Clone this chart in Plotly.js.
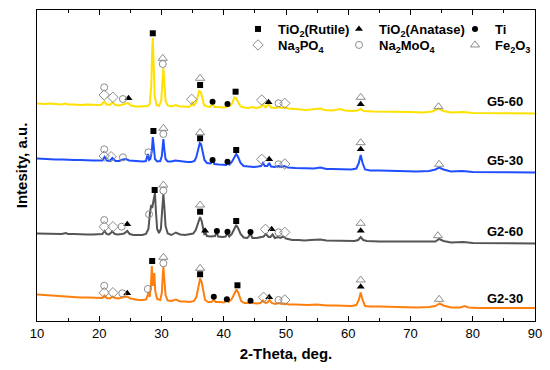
<!DOCTYPE html>
<html><head><meta charset="utf-8">
<script src="https://cdn.plot.ly/plotly-3.0.1.min.js"></script>
<style>html,body{margin:0;padding:0;background:#fff}#chart{width:550px;height:370px}</style>
</head><body><div id="chart"></div>
<script>
// ---- series: 2-theta (deg) and stacked intensity (a.u., offset as in figure) ----
const g560X = [10,11,12,13,14,14.5,15,16,17,18,19,20,20.4,20.8,21.2,21.7,22.1,22.6,23.2,23.7,24.2,24.6,25.1,25.8,26.5,27.2,27.8,28.1,28.35,28.5,28.6,28.75,28.9,29.2,29.6,29.95,30.15,30.3,30.45,30.65,31.0,31.6,32.3,32.9,33.6,34.4,34.8,34.95,35.15,35.5,35.8,36.05,36.3,36.55,36.85,37.3,37.8,38.2,38.5,39.2,39.9,40.4,40.6,40.9,41.3,41.7,41.95,42.3,42.7,43.3,44.0,44.6,45.2,45.9,46.3,46.7,47.2,47.6,48.3,48.8,49.3,49.7,50.3,51.5,52,53,54,55.5,56.2,57.5,58.7,59.5,60.5,61.5,62,62.5,64,66,68,70,72,73.5,74.5,75.3,76.5,78.5,80,82,84,86,88,90];
const g560Y = [217.5,217,217.5,217,216.5,217.5,216.5,216.5,216,216.5,216,216,216.5,219.5,216.5,216,218.5,216,215.5,216.5,217.5,218,215.5,214.5,214.5,214.5,215,217,235,270,283,255,225,216,215,220,240,253,238,220,215.5,214.5,216,214.5,214.5,214,216,219.5,215,218,224,230,229,222,216,214.5,214,217,214,214,213.5,214,216,214.5,217,223.5,223,219,214.5,213.5,213,214,213,214,216.5,213.5,217,213.5,213,214,213,214,212.5,212,211.5,211,211.5,212.5,211,210.5,212,210.5,210,210.5,212,210,209.5,209.5,209,209,208.5,209.5,212.5,210,208.5,209,208,208,208,207.5,207.5,207.5];

const g530X = [10,11,12,13,14,15,16,17,18,19,20,20.5,20.85,21.2,21.7,22.1,22.6,23.2,23.8,24.3,24.8,25.5,26.3,27.0,27.5,27.8,28.0,28.2,28.45,28.6,28.75,28.95,29.3,29.8,30.05,30.2,30.3,30.45,30.65,31.0,31.6,32.2,32.8,33.5,34.2,34.8,35.3,35.6,35.9,36.15,36.35,36.6,36.9,37.3,37.9,38.25,38.5,39.2,39.9,40.4,40.6,40.9,41.3,41.7,42.0,42.3,42.7,43.2,44.0,44.8,45.5,46.0,46.3,46.6,47.0,47.3,47.6,48.2,48.8,49.3,49.7,50.3,51.5,52.5,53.5,54.5,55.5,56.5,57.5,58.5,59.5,60.5,61.3,61.7,62.0,62.3,62.7,63.5,65,67,69,71,73,74,74.6,75.3,76.5,78.3,80,82,84,86,88,90];
const g530Y = [162.5,162,162,161.5,161.5,161,161,161,160.5,160.5,160.5,160.5,164,160.5,160,163,160,160,161.5,162,160.5,160,160,159.5,160,167,161,162,170,184,175,162,159.5,160,165,175,182,172,162,159.5,159.5,160.5,160,159,159,159,160,164,172,178,177,170,161,158,157.5,160.5,157,156.5,156,156,158.5,156.5,159,164,167,164,158,155,154.5,154,154.5,155,158,155,155,158,154.5,154,155,154,155,153.5,153,153,152.5,152.5,153.5,152,152,152,151.5,151.5,152.5,158,166,158,151.5,150.5,150.5,150,150,149.5,150,151.5,153.5,151.5,149.5,150,149,149,149,148.5,148.5,148.5];

const g260X = [10,11,12,13,14,14.6,15,16,17,18,19,20,20.5,20.85,21.2,21.6,22.1,22.5,23.0,23.6,24.0,24.5,24.9,25.5,26.2,26.9,27.5,27.9,28.15,28.35,28.5,28.65,28.8,28.95,29.1,29.3,29.6,29.9,30.1,30.3,30.45,30.65,31.0,31.6,32.3,33.0,33.8,34.5,35.1,35.5,35.9,36.2,36.45,36.7,36.9,37.05,37.3,37.9,38.6,38.85,39.1,39.8,40.3,40.6,40.9,41.3,41.7,42.0,42.3,42.7,43.2,43.8,44.3,44.6,45.3,45.9,46.4,46.8,47.2,47.5,47.85,48.2,48.7,49.1,49.55,50.0,51,52,53,54,55.5,56.5,58,59.5,61,61.6,62.0,62.4,63,65,67,69,71,73,74,74.6,75.3,76.5,78.5,80,82,84,86,88,90];
const g260Y = [87.5,87.5,87,87.5,87,88,87,87,86.5,86.5,86.5,86.5,87,90,87,86.5,89.5,87,86.5,87,87.5,90,87,86,86,86,87,92,108,116,113,118,126,128,110,92,88,92,110,127,115,95,87.5,86,88.5,86.5,86,86.5,87.5,91,99,104,100,92,86,89,85,84.5,85,89,84.5,84,84.5,88,84.5,87,93,96,93,87,83.5,83,87,83,83,83.5,84.5,87,84,84,86.5,83,84,83,84.5,82.5,81,81,80.5,81,81.5,80.5,80.5,80.5,80,81,84,81,80,79.5,79.5,79,79,79,79.5,82,80,78.5,79,78,78,77.5,78,77.5,77.5];

const g230X = [10,11,12,13,14,15,16,17,18,19,20,20.5,20.85,21.2,21.7,22.1,22.5,23.1,23.6,24.0,24.5,25.0,25.6,26.3,27.0,27.5,27.75,27.9,28.1,28.3,28.45,28.6,28.7,28.85,29.0,29.3,29.8,30.05,30.2,30.3,30.45,30.65,31.0,31.6,32.3,33.0,33.8,34.6,35.2,35.6,35.9,36.2,36.45,36.7,37.0,37.5,38.0,38.4,38.7,39.4,40.0,40.5,40.8,41.3,41.7,42.05,42.35,42.8,43.3,44.0,44.3,44.7,45.3,45.9,46.3,46.7,47.0,47.35,47.7,48.3,48.8,49.3,49.8,50.5,51.5,52.5,53.5,55,56.5,58,59.5,60.5,61.3,61.7,62.0,62.3,62.7,63.5,65,67,69,71,73,74.0,74.7,75.3,76.5,78.0,78.7,79.3,81,83,85,87,88.5,90];
const g230Y = [26.5,26,25.5,25,24.5,24.5,24,23.5,23.5,23,23,23,25.5,23,22.5,24.5,23,22.5,23.5,24,24.5,22.5,21.5,21,21,21.5,25,29,24,35,55,35,40,48,30,22,21,28,45,54,42,26,20.5,20,21.5,19.5,19.5,19,20,24,33,42.5,39,30,21,19,19,21,19,19,18.5,20.5,19,22,28,31.5,28,20,18,18,19.5,18,17.5,18,20.5,18,18.5,21,18,17,18,17,17.5,16.5,16.5,16,16,16.5,15.5,15.5,15.5,15,16,21,28.5,21,15,14.5,14.5,14,14,13.5,14,15,17.5,15.5,13.5,13.5,15,13.5,13,13,13,12.5,13,13];

// ---- phase markers (x = 2-theta, y = position on the stacked plot) ----
const rutileX = [28.6,36.2,41.9, 28.7,36.2,42.0, 28.9,36.2,42.0, 28.5,36.2,42.2];
const rutileY = [287.7,236,229.3, 190,182.7,171, 131,109.3,100, 60,46.7,35.7];
const anataseX = [24.7,47.2,62.0, 47.3,62.0, 24.5,37.0,47.7,62.0, 24.5,47.3,62.0];
const anataseY = [222.7,218.7,216.7, 161.7,171.7, 96.7,90.3,91.7,90.3, 27.7,23.7,34.3];
const tiX = [38.2,40.6, 38.2,40.6, 38.9,40.6,44.3, 38.4,40.5,44.3];
const tiY = [219.3,217, 161,159.3, 90,89.3,89, 24.3,21.7,20.3];
const na3po4X = [20.8,22.2,34.85,46.1,49.8, 20.8,21.9,46.1,49.8, 20.8,22.2,46.7,49.8, 20.8,22.2,46.4,49.8];
const na3po4Y = [226,223.7,221.7,221,217.7, 165,164.3,161.7,157, 94.3,94.3,91.7,88.7, 28.3,28.3,23.7,21];
const na2moo4X = [20.8,23.8,30.2,48.8, 20.8,23.8,27.9,30.3,48.8, 20.8,23.6,28.0,30.3,48.8, 20.8,23.7,27.8,30.3,48.8];
const na2moo4Y = [233.7,222,257,217.7, 171.7,163.7,168.7,187,156.7, 101,94.3,106.7,130.3,88.7, 35.3,27.7,32,57.7,21];
const fe2o3X = [30.2,36.2,62.0,74.5, 30.3,36.2,62.0,74.6, 30.3,36.2,62.0,74.4, 30.3,36.2,62.0,74.6];
const fe2o3Y = [262.7,242.7,223.7,214.3, 192.7,188.3,178.3,156.7, 136,116,97.7,85.3, 63.7,52.7,41,21.7];

// ---- labels ----
const sampleNames = ['G5-60','G5-30','G2-60','G2-30'];
const sampleLabelY = [219.3,161,90,22.7];
const sampleLabelX = 88.4;
const phaseNames = ['TiO<sub>2</sub>(Rutile)','TiO<sub>2</sub>(Anatase)','Ti','Na<sub>3</sub>PO<sub>4</sub>','Na<sub>2</sub>MoO<sub>4</sub>','Fe<sub>2</sub>O<sub>3</sub>'];

const lineColors = ['#FFE100','#1F4EFF','#555555','#FF7F0E'];
const seriesX = [g560X,g530X,g260X,g230X];
const seriesY = [g560Y,g530Y,g260Y,g230Y];

const traces = [];
for (let i = 0; i < 4; i++) {
  traces.push({x: seriesX[i], y: seriesY[i], type: 'scatter', mode: 'lines',
    line: {color: lineColors[i], width: 2}, showlegend: false, hoverinfo: 'skip'});
}
const gray = '#8c8c8c';
const phaseDefs = [
  {x: rutileX, y: rutileY, symbol: 'square', size: 6, color: '#000', lw: 0},
  {x: anataseX, y: anataseY, symbol: 'triangle-up', size: 7, color: '#000', lw: 0},
  {x: tiX, y: tiY, symbol: 'circle', size: 6, color: '#000', lw: 0},
  {x: na3po4X, y: na3po4Y, symbol: 'diamond-open', size: 8, color: gray, lw: 1},
  {x: na2moo4X, y: na2moo4Y, symbol: 'circle-open', size: 7, color: gray, lw: 1},
  {x: fe2o3X, y: fe2o3Y, symbol: 'triangle-up-open', size: 8, color: gray, lw: 1}
];
const legendIds = ['legend','legend2','legend3','legend4','legend5','legend6'];
phaseDefs.forEach((p, k) => {
  traces.push({x: p.x, y: p.y, type: 'scatter', mode: 'markers', name: phaseNames[k],
    legend: legendIds[k],
    marker: {symbol: p.symbol, size: p.size, color: p.color, line: {color: p.color, width: p.lw}},
    hoverinfo: 'skip'});
});

const L = 37, R = 15, T = 10, B = 49, W = 550, H = 370;
const pw = W - L - R, ph = H - T - B;
const legendPos = [[258,29],[359,29],[475,29],[258,45],[359,45],[475,45]];
const layout = {
  width: W, height: H,
  margin: {l: L, r: R, t: T, b: B, pad: 0},
  paper_bgcolor: '#fff', plot_bgcolor: '#fff',
  font: {family: 'Liberation Sans, Arial, sans-serif', color: '#000', size: 13},
  xaxis: {range: [10, 90], tick0: 10, dtick: 10, ticks: 'inside', ticklen: 5, tickwidth: 1,
    tickcolor: '#000', showline: true, linecolor: '#000', linewidth: 1, mirror: 'ticks',
    showgrid: false, zeroline: false,
    minor: {ticks: 'inside', dtick: 5, ticklen: 3, tickcolor: '#000', showgrid: false},
    tickfont: {size: 13, family: 'Liberation Sans, Arial, sans-serif'},
    title: {text: '2-Theta, deg.', font: {size: 15, weight: 'bold'}, standoff: 8}},
  yaxis: {range: [0, 311], showticklabels: false, ticks: '', showline: true, linecolor: '#000',
    linewidth: 1, mirror: true, showgrid: false, zeroline: false,
    title: {text: 'Intesity, a.u.', font: {size: 15, weight: 'bold'}, standoff: 4}},
  annotations: sampleNames.map((n, i) => ({x: sampleLabelX, y: sampleLabelY[i], xref: 'x', yref: 'y',
    text: n, showarrow: false, xanchor: 'right', yanchor: 'middle',
    font: {size: 13, weight: 'bold', color: '#000'}}))
};
legendIds.forEach((id, k) => {
  const [mx, my] = legendPos[k];
  layout[id] = {x: (mx - 20 - L) / pw, y: (T + ph - my) / ph, xanchor: 'left', yanchor: 'middle',
    bgcolor: 'rgba(0,0,0,0)', borderwidth: 0, orientation: 'h',
    font: {size: 13, weight: 'bold', color: '#000'}};
});
Plotly.newPlot('chart', traces, layout, {staticPlot: true});
</script></body></html>
